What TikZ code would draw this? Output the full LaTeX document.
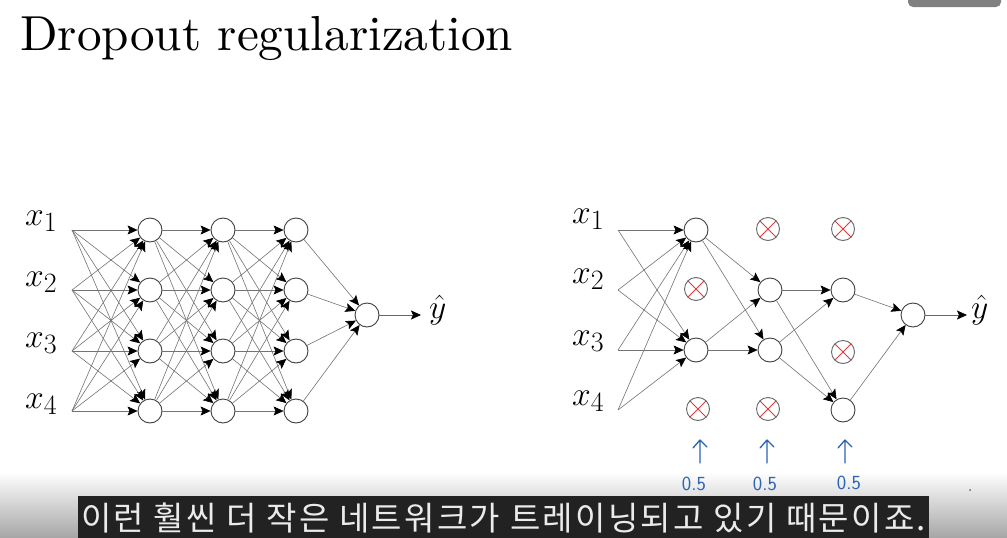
\documentclass[tikz,border=0pt]{standalone}
\usepackage{fontspec}
\newfontfamily\kr{Noto Sans CJK KR}
\usetikzlibrary{arrows.meta}
\definecolor{pen}{HTML}{2B63B5}
\definecolor{xred}{HTML}{E03A3A}
\definecolor{subbg}{HTML}{222222}
\tikzset{
  neuron/.style={circle, draw=black!75, line width=0.9pt, minimum size=24pt, inner sep=0pt, fill=white},
  dropped/.style={circle, draw=black!60, line width=0.9pt, minimum size=23pt, inner sep=0pt, fill=white,
    path picture={
      \draw[xred, line width=0.9pt]
        ([shift={(45:11.5pt)}]path picture bounding box.center) -- ([shift={(225:11.5pt)}]path picture bounding box.center)
        ([shift={(135:11.5pt)}]path picture bounding box.center) -- ([shift={(-45:11.5pt)}]path picture bounding box.center);}},
  conn/.style={draw=black!55, line width=0.6pt, -{Stealth[length=10pt,width=9pt,inset=2pt,color=black]}},
  outarrow/.style={draw=black!60, line width=0.8pt, -{Stealth[length=10pt,width=9pt,inset=2pt,color=black]}},
  lbl/.style={font=\fontsize{24.88}{30}\selectfont, inner sep=0pt, anchor=base west},
  penarrow/.style={draw=pen, line width=1.3pt, line cap=round, line join=round},
  penlbl/.style={text=pen, font=\sffamily\fontsize{20}{22}\selectfont, inner sep=0pt}
}
\newcommand{\mylbl}[1]{\scalebox{1.35}{$#1$}}
\begin{document}
\begin{tikzpicture}[x=1pt,y=-1pt]
\useasboundingbox (0,0) rectangle (1007,538);
\fill[white] (0,0) rectangle (1007,538);
\shade[top color=white, bottom color=black!35] (0,472) rectangle (1007,538);

% top-right button
\fill[black!50, rounded corners=5pt] (908,-12) rectangle (1001,7);

% title
\node[inner sep=0pt, anchor=base west] (title) at (20,50) {\resizebox{493pt}{!}{Dropout regularization}};

% ---------- left network ----------
\foreach \i/\y/\b in {1/230/225,2/290/286,3/351/347,4/411/408} {
  \coordinate (a\i) at (72,\y);
  \node[neuron] (b\i) at (150,\y) {};
  \node[neuron] (c\i) at (223,\y) {};
  \node[neuron] (d\i) at (296,\y) {};
  \node[lbl] (lx\i) at (25,\b) {\mylbl{x_{\i}}};
}
\node[neuron] (bo) at (367,315) {};
\foreach \i in {1,...,4} {
  \foreach \j in {1,...,4} {
    \draw[conn] (a\i) -- (b\j);
    \draw[conn] (b\i) -- (c\j);
    \draw[conn] (c\i) -- (d\j);
  }
  \draw[conn] (d\i) -- (bo);
}
\coordinate (by) at (421,315);
\draw[outarrow] (bo) -- (by);
\node[lbl] (lyhat) at (429,318) {\mylbl{\hat{y}}};

% ---------- right network ----------
\foreach \i/\y/\b in {1/230/223,2/290/283,3/350/345,4/410/405} {
  \coordinate (p\i) at (618,\y);
  \node[lbl] (rx\i) at (572,\b) {\mylbl{x_{\i}}};
}
\node[neuron]  (ra1) at (696,230) {};
\node[dropped] (ra2) at (696,289) {};
\node[neuron]  (ra3) at (696,350) {};
\node[dropped] (ra4) at (698,409) {};
\node[dropped] (rb1) at (768,229) {};
\node[neuron]  (rb2) at (770,290) {};
\node[neuron]  (rb3) at (770,350) {};
\node[dropped] (rb4) at (768,409) {};
\node[dropped] (rc1) at (843,229) {};
\node[neuron]  (rc2) at (843,290) {};
\node[dropped] (rc3) at (843,352) {};
\node[neuron]  (rc4) at (843,410) {};
\node[neuron]  (ro)  at (913,315) {};
\foreach \i in {1,...,4} {
  \draw[conn] (p\i) -- (ra1);
  \draw[conn] (p\i) -- (ra3);
}
\foreach \i in {1,3} {
  \draw[conn] (ra\i) -- (rb2);
  \draw[conn] (ra\i) -- (rb3);
}
\foreach \i in {2,3} {
  \draw[conn] (rb\i) -- (rc2);
  \draw[conn] (rb\i) -- (rc4);
}
\draw[conn] (rc2) -- (ro);
\draw[conn] (rc4) -- (ro);
\coordinate (ry) at (967,315);
\draw[outarrow] (ro) -- (ry);
\node[lbl] (ryhat) at (971,318) {\mylbl{\hat{y}}};

% ---------- handwritten keep-probabilities ----------
\foreach \k/\x in {1/700,2/767,3/845} {
  \coordinate (pa\k) at (\x,463);
  \coordinate (pb\k) at (\x,440);
  \draw[penarrow] (pa\k) -- (pb\k) -- ++(-7,8) (pb\k) -- ++(7,7);
}
\node[penlbl] (k1) at (694,484) {0.5};
\node[penlbl] (k2) at (765,484) {0.5};
\node[penlbl] (k3) at (849,483) {0.5};
\fill[pen!70!gray] (970,490) circle (1pt);

% ---------- subtitle ----------
\fill[subbg] (78,496) rectangle (929,540);
\node[text=white!92!black, font=\kr\fontsize{33}{36}\selectfont\addfontfeature{LetterSpace=7}, inner sep=0pt] (sub) at (503.5,518)
  {이런 훨씬 더 작은 네트워크가 트레이닝되고 있기 때문이죠.};
\end{tikzpicture}
\end{document}
